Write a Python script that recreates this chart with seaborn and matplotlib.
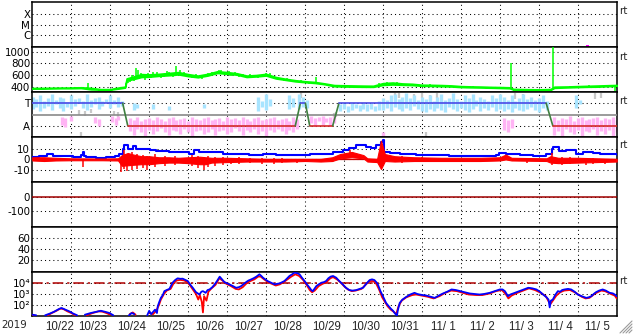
import numpy as np
import pandas as pd
import matplotlib
matplotlib.use("Agg")
import matplotlib.pyplot as plt
import seaborn as sns
from matplotlib.lines import Line2D
from matplotlib.ticker import NullLocator

sns.set_theme(style="white")
plt.rcParams['font.family'] = ['DejaVu Sans']
nan = np.nan

# ---------------- x axis: days since 2019-10-22 00:00 ----------------
year_label = "2019"
day_labels = ["10/22", "10/23", "10/24", "10/25", "10/26", "10/27", "10/28", "10/29",
              "10/30", "10/31", "11/ 1", "11/ 2", "11/ 3", "11/ 4", "11/ 5"]
day_label_pos = [0.7, 1.55, 2.55, 3.55, 4.55, 5.55, 6.55, 7.55, 8.55, 9.55,
                 10.55, 11.55, 12.55, 13.55, 14.5]
day_bounds = [1, 2, 3, 4, 5, 6, 7, 8, 9, 10, 11, 12, 13, 14]

# ---------------- panel 1: X-ray class ----------------
xray_ticks = [1e-6, 1e-5, 1e-4]
xray_labels = ["C", "M", "X"]
xray_t = [14.26]
xray_v = [9e-8]

# ---------------- panel 2: solar wind speed ----------------
speed_ticks = [400, 600, 800, 1000]
speed_t = [0.0, 0.25, 0.5, 0.75, 1.0, 1.25, 1.5, 1.75, 2.0, 2.25, 2.38, 2.42, 2.6, 2.8,
           3.0, 3.25, 3.5, 3.75, 4.0, 4.25, 4.5, 4.75, 5.0, 5.25, 5.5, 5.75, 6.0, 6.25,
           6.5, 6.75, 7.0, 7.25, 7.5, 7.75, 8.0, 8.25, 8.5, 8.75, 9.0, 9.25, 9.5, 9.75,
           10.0, 10.25, 10.5, 10.75, 11.0, 11.25, 11.5, 11.75, 12.0, 12.25, 12.35, 12.75,
           13.0, 13.3, 13.4, 13.75, 14.0, 14.25, 14.5, 14.75, 15.0]
speed_lo = [366, 367, 369, 371, 371, 374, 352, 347, 347, 368, 382, 505, 530, 565,
            570, 585, 595, 610, 580, 560, 590, 635, 620, 605, 565, 575, 590, 540,
            515, 490, 475, 462, 440, 406, 401, 398, 396, 395, 428, 436, 430, 426,
            413, 411, 406, 401, 391, 387, 384, 380, 376, 371, 346, 341,
            339, 341, 378, 386, 391, 396, 398, 406, 411]
speed_hi = [376, 377, 380, 381, 382, 388, 378, 356, 356, 388, 398, 540, 575, 615,
            610, 620, 635, 650, 615, 590, 620, 665, 650, 630, 590, 600, 620, 565,
            535, 510, 492, 480, 455, 426, 422, 419, 416, 414, 460, 470, 454, 448,
            432, 430, 426, 420, 408, 403, 400, 395, 392, 387, 360, 354,
            352, 357, 398, 402, 408, 413, 418, 423, 428]
spike_t = [1.42, 2.45, 2.5, 2.55, 2.62, 2.66, 2.72, 2.78, 2.85, 2.9, 2.98, 3.05, 3.1,
           3.2, 3.3, 3.38, 3.45, 3.52, 3.57, 3.6, 3.69, 3.8, 3.85, 3.9, 4.0, 4.1, 4.2,
           4.28, 4.35, 4.45, 4.52, 4.6, 4.7, 4.78, 4.85, 4.95, 5.05, 5.1, 5.2, 5.3,
           5.4, 5.5, 5.6, 5.7, 5.8, 5.9, 6.0, 6.1, 6.2, 6.3, 6.35, 6.45, 6.55, 6.7,
           6.9, 7.1, 7.29, 7.4, 8.9, 9.1, 9.2, 9.35, 9.6, 10.2, 10.8, 11.3, 12.28,
           12.6, 13.36, 13.8, 14.3, 14.7, 14.95]
spike_base = [380, 520, 530, 555, 555, 560, 590, 590, 590, 590, 590, 590, 590,
              600, 600, 610, 610, 615, 615, 620, 620, 630, 630, 600, 598, 600, 575,
              575, 575, 605, 605, 605, 650, 650, 650, 635, 635, 635, 618, 600,
              580, 578, 585, 588, 590, 605, 605, 605, 555, 550, 550, 525, 525, 500,
              485, 470, 470, 450, 440, 445, 450, 445, 440, 420, 410, 395, 380,
              348, 350, 393, 405, 415, 420]
spike_top = [465, 470, 480, 600, 500, 726, 690, 640, 545, 520, 640, 545, 660,
             650, 540, 570, 670, 660, 575, 560, 754, 680, 590, 660, 560, 540, 620,
             540, 530, 570, 640, 650, 620, 680, 690, 600, 670, 590, 650, 570,
             620, 550, 610, 560, 550, 570, 640, 640, 590, 520, 520, 500, 550, 480,
             510, 450, 560, 430, 470, 480, 420, 480, 420, 440, 395, 410, 800,
             338, 1080, 410, 420, 430, 320]

# ---------------- panel 3: T / A sector ----------------
state_t = [0, 2.32, 2.45, 6.75, 6.88, 7.01, 7.12, 7.71, 7.87, 13.19, 13.36, 15]
state_v = [1, 1, -1, -1, 1, 1, -1, -1, 1, 1, -1, -1]
lb_t = ([0.02, 0.1, 0.2, 0.3, 0.4, 0.5, 0.6, 0.7, 0.8, 0.9, 1.0, 1.1, 1.2, 1.3, 1.4,
         1.5, 1.6, 1.7, 1.8, 1.9, 2.0, 2.1, 2.2, 2.3]
        + [2.6, 2.7, 3.1, 3.5, 4.4, 5.8, 5.9, 6.0, 6.1, 6.6, 6.7, 6.85, 6.95, 7.05]
        + list(np.round(np.linspace(7.9, 13.2, 54), 2)) + [13.95, 14.05])
lb_lo = ([0.5, 0.7, 0.3, 0.6, 0.8, 0.4, 0.9, 0.6, 0.3, 0.7, 0.5, 0.8, 1.0, 0.6, 0.4,
          0.7, 0.9, 0.5, 0.8, 1.1, 0.6, 0.9, 0.7, 0.8]
         + [0.4, 0.6, 0.5, 0.4, 0.6, 0.3, 0.7, 0.4, 0.8, 0.5, 0.7, 0.5, 0.7, 0.6]
         + [0.3, 0.5, 0.25, 0.4, 0.6, 0.3, 0.45, 0.35, 0.5, 0.3, 0.4,
            0.4, 0.6, 0.3, 0.7, 0.5, 0.3, 0.6, 0.4, 0.8, 0.5, 0.3,
            0.2, 0.5, 0.3, 0.6, 0.4, 0.2, 0.7, 0.5, 0.3, 0.6, 0.4, 0.2, 0.5, 0.8, 0.3, 0.6, 0.4, 0.7, 0.3, 0.5,
            0.3, 0.5, 0.2, 0.6, 0.4, 0.3, 0.5, 0.7, 0.4, 0.2, 0.6, 0.4]
         + [0.6, 0.9])
lb_hi = ([1.6, 1.4, 1.7, 1.2, 1.5, 1.8, 1.3, 1.6, 1.5, 1.1, 1.7, 1.4, 1.5, 1.2, 1.8,
          1.3, 1.5, 1.6, 1.2, 1.4, 1.7, 1.3, 1.6, 1.2]
         + [1.0, 0.9, 0.9, 0.8, 0.9, 1.6, 1.2, 1.8, 1.4, 1.7, 1.5, 1.8, 1.6, 1.3]
         + [0.9, 1.0, 0.8, 1.0, 0.95, 0.85, 1.0, 0.9, 1.0, 0.8, 1.2,
            1.5, 1.3, 1.7, 1.8, 1.4, 1.6, 1.9, 1.5, 1.7, 1.3, 1.6,
            1.4, 1.7, 1.2, 1.6, 1.8, 1.3, 1.5, 1.9, 1.4, 1.2, 1.7, 1.5, 1.8, 1.3, 1.6, 1.4, 1.2, 1.7, 1.5, 1.8,
            1.6, 1.3, 1.7, 1.2, 1.5, 1.8, 1.4, 1.6, 1.3, 1.5, 1.7, 1.2]
         + [1.7, 1.3])
pk_t = ([0.75, 0.85, 1.0, 1.6, 1.7, 2.05, 2.15, 2.2]
        + list(np.round(np.linspace(2.5, 6.8, 44), 2))
        + [7.15, 7.25, 7.35, 7.45, 7.55, 7.65, 7.75]
        + [9.0, 12.1, 12.2, 12.3]
        + list(np.round(np.linspace(13.4, 15.0, 17), 2)))
pk_lo = ([-0.9, -1.1, -0.6, -0.8, -1.0, -0.7, -0.9, -0.5]
         + [-1.5, -1.8, -1.3, -1.6, -1.9, -1.4, -1.7, -1.5, -1.2, -1.6,
            -1.8, -1.4, -1.5, -1.7, -1.3, -1.6, -1.9, -1.5, -1.4, -1.7,
            -1.6, -1.3, -1.8, -1.5, -1.4, -1.7, -1.6, -1.2, -1.5, -1.8,
            -1.4, -1.6, -1.3, -1.7, -1.5, -1.9, -1.4, -1.6, -1.3, -1.5,
            -1.7, -1.4, -1.6, -1.3]
         + [-0.8, -1.0, -0.6, -0.9, -0.7, -1.0, -0.8]
         + [-2.0, -1.4, -1.6, -1.2]
         + [-1.8, -1.5, -1.9, -1.3, -1.6, -1.7, -1.4, -1.9, -1.5, -1.6, -1.3, -1.8,
            -1.5, -1.7, -1.4, -1.9, -1.6])
pk_hi = ([-0.2, -0.3, -0.1, -0.2, -0.4, -0.1, -0.3, -0.1]
         + [-0.3, -0.5, -0.2, -0.6, -0.4, -0.3, -0.5, -0.2, -0.4, -0.6,
            -0.3, -0.2, -0.5, -0.4, -0.3, -0.6, -0.2, -0.4, -0.5, -0.3,
            -0.2, -0.5, -0.4, -0.3, -0.6, -0.2, -0.4, -0.3, -0.5, -0.2,
            -0.4, -0.6, -0.3, -0.2, -0.5, -0.4, -0.3, -0.2, -0.5, -0.4,
            -0.3, -0.6, -0.2, -0.4]
         + [-0.1, -0.3, -0.2, -0.1, -0.3, -0.2, -0.1]
         + [-1.6, -0.3, -0.5, -0.4]
         + [-0.2, -0.5, -0.3, -0.4, -0.1, -0.6, -0.3, -0.2, -0.5, -0.4, -0.3, -0.2,
            -0.5, -0.3, -0.4, -0.2, -0.5])
gy_t = [1.2, 1.25, 1.35, 1.5, 2.1, 2.2, 6.9, 7.75, 7.8, 9.3, 9.4, 9.8, 10.0, 10.1,
        10.2, 10.4, 12.4, 12.6, 14.45, 14.6]
gy_lo = [0.0, -1.9, -0.1, 0.1, 0.0, -0.2, 1.5, -0.3, -0.2, 1.4, 1.5, 1.3, 1.5, -2.0,
         1.2, 1.5, 1.4, 1.3, 1.4, 1.5]
gy_hi = [0.4, -1.6, 0.3, 0.5, 0.35, 0.2, 1.9, 0.1, 0.2, 1.9, 1.9, 1.8, 1.9, -1.6,
         1.7, 1.9, 1.9, 1.8, 1.9, 1.9]

# ---------------- panel 4: IMF Bt (blue) and Bz (red) ----------------
bt_t = [0.0, 0.18, 0.39, 0.52, 0.78, 1.04, 1.25, 1.29, 1.33, 1.38, 1.63, 1.89, 2.11,
        2.23, 2.32, 2.36, 2.45, 2.58, 2.66, 2.83, 3.01, 3.18, 3.52, 3.86, 4.03, 4.16,
        4.29, 4.63, 4.89, 5.23, 5.57, 5.92, 6.26, 6.60, 6.86, 7.12, 7.25, 7.63, 7.72,
        7.98, 8.14, 8.31, 8.40, 8.57, 8.70, 8.83, 8.96, 9.0, 9.04, 9.17, 9.43, 9.86,
        10.28, 10.7, 11.13, 11.56, 11.91, 11.99, 12.17, 12.51, 12.85, 13.19, 13.34,
        13.37, 13.53, 13.7, 13.96, 14.13, 14.39, 14.56, 14.9, 15.0]
bt_v = [2.3, 3.0, 4.8, 3.4, 3.0, 2.3, 4.5, 7.0, 3.0, 2.3, 1.4, 2.0, 3.0,
        5.5, 10.1, 13.8, 10.0, 13.0, 9.4, 10.0, 8.6, 7.7, 7.1, 6.5, 5.5, 8.6,
        7.1, 6.5, 5.5, 4.6, 4.0, 4.6, 4.0, 4.0, 3.9, 4.8, 5.4, 5.4, 7.0,
        8.5, 11.0, 13.2, 13.2, 11.7, 11.0, 13.2, 16.3, 17.8, 7.0, 6.1, 4.8, 4.5,
        3.9, 3.0, 3.0, 3.0, 3.9, 6.1, 4.8, 3.9, 3.0, 4.8, 10.0,
        12.0, 8.0, 8.5, 5.4, 7.0, 6.1, 5.4, 4.8, 3.9]
bz_t = [0.0, 0.3, 0.6, 1.0, 1.8, 2.2, 2.3, 2.45, 2.6, 2.8, 3.0, 3.25, 3.5, 3.75,
        4.0, 4.3, 4.45, 4.6, 5.0, 5.5, 6.0, 6.5, 7.0, 7.4, 7.7, 7.9, 8.2, 8.5, 8.6,
        8.85, 8.95, 9.05, 9.3, 9.8, 10.5, 11.5, 12.0, 12.15, 12.3, 13.2, 13.3,
        13.5, 14.0, 14.5, 15.0]
bz_lo = [-1.0, -1.5, -1.0, -0.8, -0.8, -1.0, -6.0, -5.5, -5.0, -4.5, -4.5, -3.5,
         -3.0, -3.0, -3.5, -4.5, -4.5, -3.0, -2.5, -2.0, -2.0, -2.0, -1.5, -2.0,
         -1.5, 1.0, 2.0, 1.0, -2.0, -2.5, -9.0, -1.5, -2.0, -1.5, -1.5, -1.5, -1.0,
         0.0, -1.0, -1.5, -3.0, -3.5, -3.0, -2.5, -2.0]
bz_hi = [2.0, 2.0, 1.5, 1.0, 0.8, 1.0, 4.0, 6.0, 4.5, 3.0, 3.0, 2.0, 2.0, 1.5,
         2.0, 2.5, 2.0, 1.5, 1.5, 1.0, 0.5, 0.5, 0.5, 0.5, 2.0, 5.0, 7.0, 4.0,
         1.0, 0.5, 17.5, 5.0, 3.0, 2.0, 1.5, 1.5, 2.0, 4.5, 1.5, 1.0, 3.0, 1.5,
         1.5, 1.0, 0.5]
bzs_t = [1.29, 2.28, 2.35, 2.42, 2.55, 2.7, 2.85, 2.95, 3.15, 3.4, 3.65, 4.1, 4.25,
         4.4, 4.5, 4.7, 4.9, 5.1, 5.3, 5.6, 5.9, 6.2, 6.4, 6.8, 8.15, 9.5, 10.0,
         12.7, 13.35, 13.6, 13.8, 14.2, 14.4, 14.7]
bzs_lo = [-7.5, -11.5, -9.0, -11.0, -10.0, -9.0, -8.0, -10.0, -7.0, -6.0, -5.0,
          -6.0, -8.0, -10.0, -7.0, -6.0, -5.0, -4.0, -4.0, -3.5, -4.0, -4.0, -3.5,
          -3.0, 2.0, -3.0, -2.5, -3.0, -5.0, -5.0, -4.0, -5.0, -4.0, -4.0]
bzs_hi = [0.0, 0.0, 9.0, 5.0, 7.0, 5.0, 4.0, 3.0, 5.0, 3.0, 3.0, 4.0, 3.0,
          2.0, 3.0, 2.0, 2.0, 1.5, 2.0, 1.0, 1.0, 1.0, 1.0, 0.5, 9.0, 3.0, 2.0,
          1.5, 6.0, 2.0, 2.0, 1.0, 1.0, 0.5]

# ---------------- panel 5 / 6: index panels ----------------
p5_ticks = [0, -100]
p6_ticks = [60, 40, 20]

# ---------------- panel 7: electron flux (log10) ----------------
flux_ticks = [1e2, 1e3, 1e4]
flux_labels = ["10\u00b2", "10\u00b3", "10\u2074"]
flux_threshold = 1e4
pb_t = [0.0, 0.1, nan,
        0.33, 0.45, 0.55, 0.68, 0.75, 0.85, 0.95, 1.05, 1.15, nan,
        1.35, 1.5, 1.63, 1.76, 1.88, 1.98, 2.08, nan,
        2.48, 2.55, 2.62, nan,
        2.95, 3.0, 3.05, 3.1, 3.15, 3.2, 3.22, 3.26, 3.3, 3.35, 3.39, 3.45, 3.52, 3.6,
        3.67, 3.73, 3.8, 3.86, 3.93, 3.99, 4.06, 4.12, 4.2, 4.29, 4.34, 4.38, 4.45,
        4.5, 4.55, 4.62, 4.68, 4.75, 4.81, 4.87, 4.93, 5.0, 5.06, 5.15, 5.23, 5.3,
        5.36, 5.43, 5.49, 5.55, 5.62, 5.68, 5.75, 5.83, 5.88, 5.92, 5.98, 6.04, 6.13,
        6.22, 6.28, 6.35, 6.41, 6.47, 6.53, 6.6, 6.67, 6.73, 6.8, 6.86, 6.92, 6.99,
        7.05, 7.12, 7.16, 7.2, 7.25, 7.29, 7.35, 7.42, 7.48, 7.54, 7.6, 7.66, 7.72,
        7.8, 7.88, 7.97, 8.05, 8.14, 8.22, 8.31, 8.4, 8.49, 8.57, 8.66, 8.72, 8.78,
        8.83, 8.87, 8.93, 9.0, 9.04, 9.08, 9.15, 9.21, 9.26, 9.3, 9.36, 9.38, 9.43,
        9.5, 9.6, 9.7, 9.81, 9.88, 9.94, 10.02, 10.11, 10.22, 10.33, 10.43, 10.54,
        10.65, 10.76, 10.87, 10.98, 11.1, 11.23, 11.35, 11.48, 11.6, 11.74, 11.87,
        12.0, 12.07, 12.13, 12.21, 12.27, 12.34, 12.42, 12.51, 12.62, 12.73, 12.83,
        12.94, 13.03, 13.11, 13.2, 13.25, 13.28, 13.31, 13.36, 13.42, 13.49, 13.55,
        13.6, 13.66, 13.75, 13.83, 13.92, 14.0, 14.1, 14.22, 14.28, 14.35, 14.41,
        14.47, 14.55, 14.64, 14.72, 14.82, 14.9, 14.95, 15.0]
pb_v = [1.15, 1.1, nan,
        1.1, 1.25, 1.4, 1.65, 1.75, 1.6, 1.45, 1.25, 1.1, nan,
        1.15, 1.3, 1.4, 1.5, 1.4, 1.3, 1.1, nan,
        1.1, 1.3, 1.2, nan,
        1.1, 1.5, 1.2, 1.4, 1.6, 1.3, 1.9, 2.3, 2.65, 2.9, 3.25, 3.35, 3.45, 4.0,
        4.25, 4.39, 4.35, 4.36, 4.25, 4.15, 3.8, 3.55, 3.16, 2.95, 3.2, 3.25, 3.1,
        3.35, 3.4, 3.6, 3.85, 4.2, 4.54, 4.3, 4.06, 3.95, 3.85, 3.7, 3.55, 3.6,
        3.7, 3.9, 4.06, 4.2, 4.3, 4.4, 4.54, 4.75, 4.6, 4.45, 4.3, 4.15, 4.0,
        3.85, 3.9, 3.94, 4.05, 4.15, 4.35, 4.6, 4.75, 4.9, 4.85, 4.75, 4.45, 4.15,
        3.85, 3.55, 3.35, 3.25, 3.5, 3.7, 3.85, 4.0, 4.05, 4.15, 4.4, 4.55, 4.6,
        4.45, 4.15, 3.85, 3.55, 3.34, 3.3, 3.34, 3.45, 3.55, 3.9, 4.24, 4.3, 4.24,
        4.05, 3.85, 3.3, 2.8, 2.5, 2.2, 1.9, 1.66, 1.5, 1.3, 1.06, 1.5, 2.2,
        2.5, 2.74, 2.95, 3.1, 3.0, 2.95, 2.9, 2.86, 2.75, 2.65, 2.85, 3.04,
        3.2, 3.4, 3.35, 3.25, 3.15, 3.04, 3.0, 2.95, 3.0, 3.1, 3.25,
        3.4, 3.4, 3.25, 2.8, 2.95, 3.04, 3.15, 3.25, 3.4, 3.55, 3.5,
        3.4, 3.2, 2.95, 2.7, 2.5, 1.8, 2.4, 2.5, 2.9, 3.25, 3.2,
        3.35, 3.4, 3.45, 3.4, 3.2, 2.95, 2.8, 2.65, 2.7, 2.8, 3.0,
        3.16, 3.3, 3.4, 3.3, 3.1, 3.05, 2.95, 2.8]
pr_t = [0.0, 0.08, nan,
        0.4, 0.5, 0.62, 0.72, 0.8, 0.9, 1.0, 1.1, nan,
        1.4, 1.55, 1.7, 1.8, 1.9, 2.0, nan,
        2.5, 2.58, 2.65, nan,
        3.0, 3.1, 3.18, 3.25, 3.3, 3.38, 3.45, 3.55, 3.62, 3.7, 3.8, 3.9, 3.98, 4.05,
        4.12, 4.2, 4.26, 4.3, 4.35, 4.38, 4.41, 4.47, 4.52, 4.6, 4.7, 4.8, 4.88,
        4.98, 5.1, 5.22, 5.3, 5.4, 5.5, 5.6, 5.7, 5.8, 5.86, 5.95, 6.05, 6.15, 6.25,
        6.35, 6.45, 6.55, 6.65, 6.75, 6.85, 6.95, 7.05, 7.12, 7.18, 7.25, 7.35,
        7.45, 7.55, 7.65, 7.72, 7.82, 7.92, 8.0, 8.1, 8.2, 8.3, 8.45, 8.55, 8.65,
        8.75, 8.83, 8.9, 8.98, 9.05, 9.12, 9.2, 9.28, 9.34, 9.4, 9.48, 9.6, 9.75,
        9.85, 10.0, 10.15, 10.3, 10.45, 10.6, 10.75, 10.9, 11.05, 11.2, 11.4, 11.55,
        11.75, 11.9, 12.05, 12.15, 12.22, 12.3, 12.45, 12.6, 12.75, 12.9, 13.05,
        13.18, 13.25, 13.3, 13.36, 13.45, 13.55, 13.65, 13.8, 13.95, 14.1, 14.2,
        14.3, 14.45, 14.6, 14.7, 14.85, 14.95, 15.0]
pr_v = [1.1, 1.05, nan,
        1.1, 1.3, 1.5, 1.7, 1.65, 1.45, 1.3, 1.1, nan,
        1.1, 1.3, 1.45, 1.42, 1.3, 1.15, nan,
        1.2, 1.35, 1.15, nan,
        1.3, 1.2, 1.5, 2.0, 2.5, 3.0, 3.3, 3.45, 3.9, 4.2, 4.25, 4.2, 4.05, 3.75,
        3.4, 3.0, 2.5, 2.9, 2.3, 1.35, 2.8, 2.4, 3.2, 3.5, 3.8, 4.4, 4.2,
        3.9, 3.7, 3.45, 3.4, 3.6, 3.95, 4.15, 4.3, 4.55, 4.55, 4.3, 4.05, 3.9, 3.75,
        3.85, 4.05, 4.3, 4.55, 4.75, 4.6, 4.25, 3.75, 3.35, 3.15, 3.3, 3.7,
        3.9, 4.05, 4.4, 4.5, 4.3, 4.0, 3.7, 3.4, 3.25, 3.3, 3.45, 3.8, 4.15,
        4.15, 3.9, 3.4, 2.7, 2.3, 1.9, 1.6, 1.4, 1.2, 1.9, 2.4, 2.7, 2.9,
        2.95, 2.85, 2.75, 2.6, 2.8, 3.1, 3.3, 3.25, 3.1, 2.95, 2.9, 2.9,
        3.05, 3.25, 3.35, 3.0, 2.6, 2.85, 3.1, 3.3, 3.5, 3.35, 3.1,
        2.8, 2.35, 2.1, 2.4, 2.85, 3.15, 3.3, 3.35, 3.1, 2.75, 2.6,
        2.65, 3.05, 3.3, 3.25, 3.0, 2.85, 2.6]

# ---------------- colours ----------------
C_GREEN = "#00ff00"
C_BLUE = "#0000ff"
C_RED = "#ff0000"
C_LB = "#a8e4ff"
C_PINK = "#ffb4f4"
C_GRAY = "#c8c8c8"

# ---------------- figure ----------------
W, H = 633, 334
fig = plt.figure(figsize=(W / 100, H / 100), dpi=100)
fig.patch.set_facecolor("white")
gs = fig.add_gridspec(7, 1, left=32.3 / W, right=616.7 / W, top=1 - 2.3 / H,
                      bottom=1 - 316.5 / H, hspace=0)
axes = [fig.add_subplot(gs[i]) for i in range(7)]
DOT = (0, (1, 3))
FS = 7.4


def style(ax, yticks, ylabels, ylim, log=False, fs=FS):
    ax.set_facecolor("white")
    if log:
        ax.set_yscale("log")
    ax.set_xlim(0, 15)
    ax.set_ylim(*ylim)
    ax.set_xticks(day_bounds, minor=True)
    ax.set_xticks(day_label_pos)
    ax.set_xticklabels([])
    ax.set_yticks(yticks)
    ax.set_yticklabels(ylabels)
    ax.yaxis.set_minor_locator(NullLocator())
    ax.tick_params(axis="x", which="both", length=0)
    ax.tick_params(axis="y", which="both", length=0, pad=1.5, labelsize=fs,
                   labelcolor="black")
    ax.grid(False)
    ax.grid(True, axis="x", which="minor", color="black", lw=0.75, ls=DOT)
    ax.grid(True, axis="y", which="major", color="black", lw=0.75, ls=DOT)
    ax.set_axisbelow(True)
    for s in ax.spines.values():
        s.set_visible(True)
        s.set_color("black")
        s.set_linewidth(1.1)


# panel 1
ax = axes[0]
style(ax, xray_ticks, xray_labels, (10 ** -7.14, 10 ** -2.86), log=True)
sns.scatterplot(x=xray_t, y=xray_v, ax=ax, marker="s", s=5, color="#ff00ff",
                edgecolor="none", legend=False)

# panel 2
ax = axes[1]
style(ax, speed_ticks, [str(v) for v in speed_ticks], (305, 1080))
ax.fill_between(speed_t, speed_lo, speed_hi, color=C_GREEN, lw=1.2, zorder=3)
ax.vlines(spike_t, spike_base, spike_top, color=C_GREEN, lw=1.1, zorder=3)

# panel 3
ax = axes[2]
style(ax, [1, -1], ["T", "A"], (-2.0, 2.0))
ax.vlines(gy_t, gy_lo, gy_hi, color=C_GRAY, lw=1.6, zorder=2)
ax.vlines(lb_t, lb_lo, lb_hi, color=C_LB, lw=2.4, zorder=2)
ax.vlines(pk_t, pk_lo, pk_hi, color=C_PINK, lw=2.4, zorder=2)
ax.axhline(0, color="#8a8a8a", lw=1.2, zorder=3)
for i in range(len(state_t) - 1):
    a, b = state_v[i], state_v[i + 1]
    col = "#4a4ae6" if (a == 1 and b == 1) else ("#d42a2a" if (a == -1 and b == -1) else "#3f7f3f")
    sns.lineplot(x=state_t[i:i + 2], y=state_v[i:i + 2], ax=ax, color=col, lw=1.2,
                 estimator=None, sort=False, zorder=4)

# panel 4
ax = axes[3]
style(ax, [10, 0, -10], ["10", "0", "-10"], (-21, 21))
ax.axhline(0, color="#cc0000", lw=0.9, zorder=2)
sns.lineplot(x=bt_t, y=bt_v, ax=ax, color=C_BLUE, lw=1.5, estimator=None,
             sort=False, zorder=3, drawstyle="steps-post")
ax.fill_between(bz_t, bz_lo, bz_hi, color=C_RED, lw=0.8, zorder=4)
ax.vlines(bzs_t, bzs_lo, bzs_hi, color=C_RED, lw=1.1, zorder=4)

# panel 5
ax = axes[4]
style(ax, p5_ticks, ["0", "-100"], (-206, 106))
ax.axhline(0, color="#a00000", lw=1.1, zorder=3)

# panel 6
ax = axes[5]
style(ax, p6_ticks, ["60", "40", "20"], (-2, 80.5))

# panel 7
ax = axes[6]
style(ax, flux_ticks, flux_labels, (10 ** 0.99, 10 ** 4.99), log=True, fs=7.6)
ax.axhline(flux_threshold, color="#b00000", lw=1.1, ls=(0, (7, 2.5, 1.5, 2.5)), zorder=2)


def segments(ts, vs):
    segs, cur_t, cur_v = [], [], []
    for t, v in zip(ts, vs):
        if np.isnan(t):
            if cur_t:
                segs.append((cur_t, cur_v))
            cur_t, cur_v = [], []
        else:
            cur_t.append(t)
            cur_v.append(10 ** v)
    if cur_t:
        segs.append((cur_t, cur_v))
    return segs


for tt, vv in segments(pr_t, pr_v):
    sns.lineplot(x=tt, y=vv, ax=ax, color=C_RED, lw=1.3, estimator=None, sort=False, zorder=3)
for tt, vv in segments(pb_t, pb_v):
    sns.lineplot(x=tt, y=vv, ax=ax, color=C_BLUE, lw=1.3, estimator=None, sort=False, zorder=4)

ax.set_xticklabels(day_labels)
ax.tick_params(axis="x", which="major", labelbottom=True, pad=3, labelsize=8.3)
for lab in ax.get_xticklabels():
    lab.set_family(["Liberation Sans Narrow", "Liberation Sans", "DejaVu Sans"])
for a in axes:
    a.set_xlabel("")
    a.set_ylabel("")

fig.text(14 / W, 1 - 324.5 / H, year_label, ha="center", va="center", fontsize=FS)

for yp in [11.5, 56.5, 100.5, 145.5, 281.5]:
    fig.text(619.5 / W, 1 - yp / H, "rt", ha="left", va="center", fontsize=FS)

for k in [3, 6, 9, 12]:
    fig.add_artist(Line2D([(W - 1 - k) / W, (W - 1) / W], [1 / H, (1 + k) / H],
                          transform=fig.transFigure, color="#9a9a9a", lw=0.8))

fig.savefig("out.png", dpi=100, facecolor="white")
